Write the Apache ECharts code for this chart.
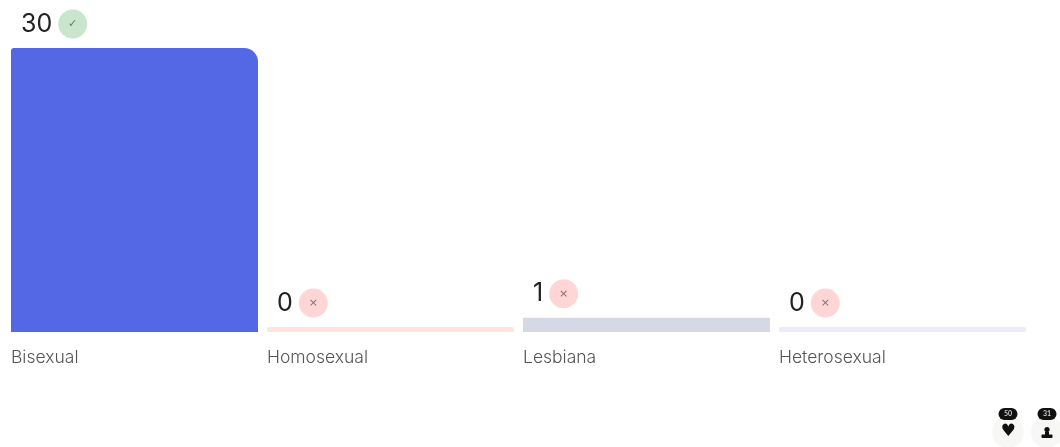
<!DOCTYPE html>
<html><head><meta charset="utf-8">
<style>html,body{margin:0;padding:0;background:#fff}#c{width:1060px;height:447px}</style>
<script src="https://cdn.jsdelivr.net/npm/echarts@6/dist/echarts.min.js"></script>
</head><body><div id="c"></div>
<script>
const categories = ['Bisexual','Homosexual','Lesbiana','Heterosexual'];
const values = [30,0,1,0];
const correct = [true,false,false,false];
const barColors = ['#5468E6','#FFE3E3','#D6D8E6','#EBEBFB'];
const badgeCounts = ['50','31'];
const axisFloor = -0.537;
const axisTop = 30;
const barWidth = 247;

const chart = echarts.init(document.getElementById('c'));
function iconBase(cx, label){
  return [
    {type:'circle',shape:{cx:cx,cy:432,r:16},style:{fill:'#F7F7F6'}},
    {type:'rect',shape:{x:cx-9.5,y:408,width:19,height:12,r:6},style:{fill:'#111'}},
    {type:'text',x:cx,y:414,style:{text:label,fill:'#ccc',font:'bold 7px Lato',align:'center',verticalAlign:'middle'}}
  ];
}
const heart = {type:'text',x:1008,y:432,style:{text:'♥',fill:'#111',font:'17px "DejaVu Sans"',align:'center',verticalAlign:'middle'}};
const person = [
  {type:'circle',shape:{cx:1047,cy:429.5,r:2.6},style:{fill:'#111'}},
  {type:'rect',shape:{x:1045,y:432,width:4,height:3},style:{fill:'#111'}},
  {type:'rect',shape:{x:1041.5,y:434.5,width:11,height:3.5,r:1},style:{fill:'#111'}}
];
chart.setOption({
  animation:false,
  backgroundColor:'#fff',
  grid:{left:11,right:281,top:48,bottom:115},
  xAxis:{type:'category',data:categories,boundaryGap:false,
    axisLine:{show:false},axisTick:{show:false},splitLine:{show:false},
    axisLabel:{align:'left',interval:0,margin:16.5,color:'#555',fontFamily:'Inter',fontWeight:300,fontSize:17.5,verticalAlign:'top',showMinLabel:true,showMaxLabel:true}},
  yAxis:{type:'value',min:axisFloor,max:axisTop,show:false,splitLine:{show:false}},
  series:[{
    type:'custom',
    clip:false,
    encode:{x:0,y:1},
    data:values.map((v,i)=>[i,v]),
    renderItem(params,api){
      const i=api.value(0), v=api.value(1);
      const top=api.coord([i,v]), base=api.coord([i,axisFloor]);
      const ok=correct[i];
      return {type:'group',children:[
        {type:'rect',
         shape:{x:top[0],y:top[1],width:barWidth,height:base[1]-top[1],r:v>=30?[3,14,0,0]:(v===0?[2,2,2,2]:0)},
         style:{fill:barColors[i]}},
        {type:'text',x:top[0]+10,y:top[1]-24,
         style:{
           text:'{n|'+v+'}{s|}{b|'+(ok?'✓':'×')+'}',
           verticalAlign:'middle',align:'left',
           rich:{
             n:{fontSize:25,fontWeight:400,fontFamily:'Inter',fill:'#222'},
             s:{width:6},
             b:{width:29,height:29,borderRadius:14.5,align:'center',verticalAlign:'middle',lineHeight:29,
                backgroundColor:ok?'#C9E6CC':'#FFD6D6',fill:ok?'#5E7A64':'#94646A',fontSize:11,fontFamily:'DejaVu Sans'}
           }
         }}
      ]};
    }
  }],
  graphic:[...iconBase(1008,badgeCounts[0]),heart,...iconBase(1047,badgeCounts[1]),...person]
});
</script></body></html>
